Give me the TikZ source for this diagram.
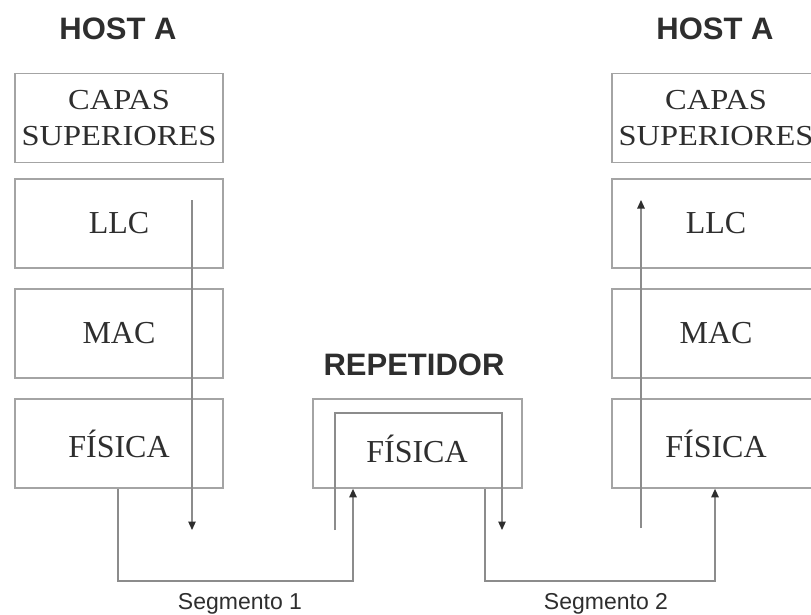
\documentclass[tikz,border=0pt]{standalone}
\usepackage{fontspec}
\setmainfont{Liberation Serif}
\newfontfamily\headfont{Liberation Sans}
\newfontfamily\capfont[FakeStretch=1.12]{Liberation Serif}
\usetikzlibrary{arrows.meta}
\definecolor{boxgray}{HTML}{A4A4A4}
\definecolor{wiregray}{HTML}{8C8C8C}
\definecolor{ink}{HTML}{2E2E2E}

\begin{document}
\begin{tikzpicture}[x=1pt,y=-1pt,
  layerbox/.style={draw=boxgray, line width=1.7pt, minimum width=208pt,
    minimum height=89pt, inner sep=0pt, text=ink, align=center,
    font=\fontsize{32}{36}\selectfont},
  twoline/.style={font=\capfont\fontsize{29}{36}\selectfont},
  title/.style={text=ink, font=\headfont\bfseries\fontsize{31}{36}\selectfont, inner sep=0pt},
  seglabel/.style={text=ink, font=\headfont\fontsize{23}{26}\selectfont, inner sep=0pt, anchor=base},
  wire/.style={draw=wiregray, line width=1.2pt},
  sig/.style={wire, -{Triangle[length=8.5pt, width=7.5pt, color=ink]}}]

\useasboundingbox (0,0) rectangle (811,615);
\clip (0,0) rectangle (811,615);
\fill[white] (0,0) rectangle (811,615);

% ---- station on the left ----
\node[title] (hostL) at (118,29) {HOST A};
\node[layerbox, twoline] (capL) at (119,118)   {CAPAS\\SUPERIORES};
\node[layerbox] (llcL) at (119,223.5) {LLC};
\node[layerbox] (macL) at (119,333.5) {MAC};
\node[layerbox] (fisL) at (119,443.5) {FÍSICA};

% ---- station on the right (runs past the right edge) ----
\node[title] (hostR) at (715,29) {HOST A};
\node[layerbox, twoline] (capR) at (716,118)   {CAPAS\\SUPERIORES};
\node[layerbox] (llcR) at (716,223.5) {LLC};
\node[layerbox] (macR) at (716,333.5) {MAC};
\node[layerbox] (fisR) at (716,443.5) {FÍSICA};

% ---- repeater ----
\node[title] (repT) at (414,365) {REPETIDOR};
\node[layerbox, minimum width=209pt] (repO) at (417.5,443.5) {};
\node[text=ink, font=\fontsize{32}{36}\selectfont, inner sep=0pt] (repF) at (417,449) {FÍSICA};

% ---- reference points for the signal paths ----
\coordinate (downTop) at (192,200);
\coordinate (downEnd) at (192,530);
\coordinate (upStart) at (641,528);
\coordinate (upEnd)   at (641,200);
\coordinate (s1L) at (118,581);
\coordinate (s1R) at (353,581);
\coordinate (s2L) at (485,581);
\coordinate (s2R) at (715,581);
\coordinate (inL)   at (335,530);
\coordinate (inTop) at (502,413);
\coordinate (inR)   at (502,530);

% signal going down the left stack
\draw[sig] (downTop) -- (downEnd);
% segment 1: left physical layer to repeater
\draw[sig] (fisL.south -| s1L) -- (s1L) -- (s1R) -- (s1R |- repO.south);
% path through the repeater's physical layer
\draw[sig] (inL) |- (inTop) -- (inR);
% segment 2: repeater to right physical layer
\draw[sig] (repO.south -| s2L) -- (s2L) -- (s2R) -- (s2R |- fisR.south);
% signal going up the right stack
\draw[sig] (upStart) -- (upEnd);

\node[seglabel] (seg1) at (240,609) {Segmento 1};
\node[seglabel] (seg2) at (606,609) {Segmento 2};

\end{tikzpicture}
\end{document}
